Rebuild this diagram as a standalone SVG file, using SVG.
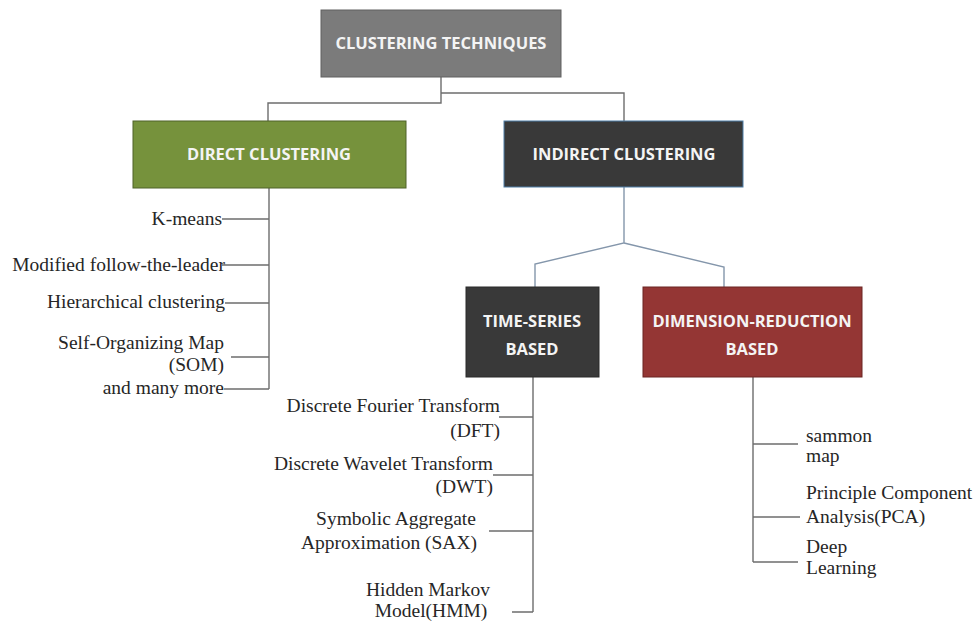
<svg xmlns="http://www.w3.org/2000/svg" width="974" height="623" viewBox="0 0 974 623">
<style>
.hdr{font-family:"Open Sans","Liberation Sans",sans-serif;font-weight:700;font-size:16.5px;fill:#f4f4f4;text-anchor:middle}
.lbl{font-family:"Liberation Serif","Times New Roman",serif;font-size:19.5px;fill:#262626}
.r{text-anchor:end}
.c{text-anchor:middle}
.ln{fill:none;stroke:#6d6d6d;stroke-width:1.4}
.bl{fill:none;stroke:#8496ab;stroke-width:1.4}
</style>
<rect width="974" height="623" fill="#ffffff"/>
<g id="connectors">
<path class="ln" d="M441,77 V103 H268 V121 M441,93 H624 V121"/>
<path class="bl" d="M624,187 V243 L535,264 V287 M624,243 L724,267 V287"/>
<path class="ln" d="M269,188 V389 M222,219 H269 M222,265 H269 M225,303 H269 M231,357 H269 M224,389 H269"/>
<path class="ln" d="M533,377 V612 M499,417 H533 M493,475 H533 M489,531 H533 M512,612 H533"/>
<path class="ln" d="M753,377 V562 M753,444 H798 M753,517 H800 M753,562 H798"/>
</g>
<g id="root">
<rect x="321" y="10" width="240" height="67" fill="#7b7b7b" stroke="#606060" stroke-width="1"/>
<text class="hdr" x="441" y="49">CLUSTERING TECHNIQUES</text>
</g>
<g id="direct">
<rect x="133" y="121" width="273" height="67" fill="#76923c" stroke="#4f6228" stroke-width="1"/>
<text class="hdr" x="269" y="160">DIRECT CLUSTERING</text>
</g>
<g id="indirect">
<rect x="504" y="121" width="239" height="66" fill="#393939" stroke="#4f7fa8" stroke-width="1"/>
<text class="hdr" x="624" y="160">INDIRECT CLUSTERING</text>
</g>
<g id="timeseries">
<rect x="466" y="287" width="133" height="90" fill="#393939" stroke="#2a2a2a" stroke-width="1"/>
<text class="hdr" x="532" y="327">TIME-SERIES</text>
<text class="hdr" x="532" y="355">BASED</text>
</g>
<g id="dimred">
<rect x="643" y="287" width="219" height="90" fill="#943634" stroke="#6b2422" stroke-width="1"/>
<text class="hdr" x="752" y="327">DIMENSION-REDUCTION</text>
<text class="hdr" x="752" y="355">BASED</text>
</g>
<g id="direct-items">
<text class="lbl r" x="222" y="225">K-means</text>
<text class="lbl r" x="225" y="271">Modified follow-the-leader</text>
<text class="lbl r" x="225" y="308">Hierarchical clustering</text>
<text class="lbl r" x="224" y="349">Self-Organizing Map</text>
<text class="lbl r" x="224" y="371">(SOM)</text>
<text class="lbl r" x="224" y="394">and many more</text>
</g>
<g id="timeseries-items">
<text class="lbl r" x="500" y="412">Discrete Fourier Transform</text>
<text class="lbl r" x="500" y="437">(DFT)</text>
<text class="lbl r" x="493" y="470">Discrete Wavelet Transform</text>
<text class="lbl r" x="493" y="493">(DWT)</text>
<text class="lbl c" x="396" y="525">Symbolic Aggregate</text>
<text class="lbl c" x="389" y="549">Approximation (SAX)</text>
<text class="lbl c" x="428" y="596">Hidden Markov</text>
<text class="lbl c" x="431" y="617">Model(HMM)</text>
</g>
<g id="dimred-items">
<text class="lbl" x="806" y="442">sammon</text>
<text class="lbl" x="806" y="462">map</text>
<text class="lbl" x="806" y="499">Principle Component</text>
<text class="lbl" x="806" y="523">Analysis(PCA)</text>
<text class="lbl" x="806" y="553">Deep</text>
<text class="lbl" x="806" y="574">Learning</text>
</g>
</svg>
